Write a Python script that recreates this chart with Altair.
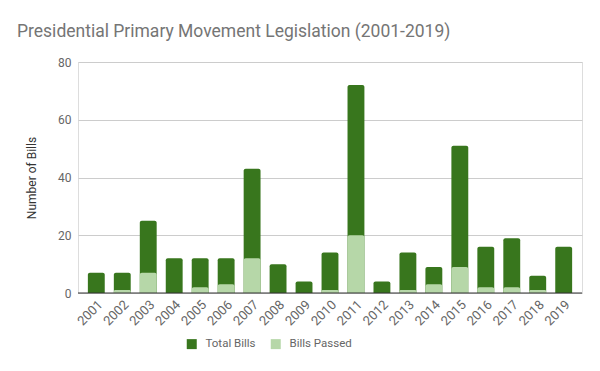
import altair as alt
import pandas as pd

years = [str(y) for y in range(2001, 2020)]
total_bills = [7, 7, 25, 12, 12, 12, 43, 10, 4, 14, 72, 4, 14, 9, 51, 16, 19, 6, 16]
bills_passed = [0, 1, 7, 0, 2, 3, 12, 0, 0, 1, 20, 0, 1, 3, 9, 2, 2, 1, 0]
series = ["Total Bills", "Bills Passed"]
colors = ["#38761d", "#b6d7a8"]

rows = []
for i, y in enumerate(years):
    rows.append({"year": y, "series": series[0], "value": total_bills[i], "ord": 0})
for i, y in enumerate(years):
    rows.append({"year": y, "series": series[1], "value": bills_passed[i], "ord": 1})
df = pd.DataFrame(rows)

font = "Roboto"

bars = alt.Chart(df).mark_bar(cornerRadiusTopLeft=2, cornerRadiusTopRight=2).encode(
    x=alt.X("year:N", sort=years,
            scale=alt.Scale(paddingInner=0.35, paddingOuter=0.38),
            axis=alt.Axis(title=None, labelAngle=-45, ticks=False, domain=False,
                          labelColor="#666666", labelFontSize=13, labelPadding=5,
                          labelFont=font)),
    y=alt.Y("value:Q", stack=None,
            scale=alt.Scale(domain=[0, 80]),
            axis=alt.Axis(title="Number of Bills", values=[0, 20, 40, 60, 80],
                          ticks=False, domain=False, gridColor="#cccccc",
                          labelColor="#666666", labelFontSize=12, labelPadding=7,
                          labelFont=font, titleFont=font, titleFontSize=12,
                          titleFontWeight="normal", titleColor="#333333",
                          titlePadding=19)),
    color=alt.Color("series:N", scale=alt.Scale(domain=series, range=colors),
                    legend=alt.Legend(title=None, orient="none", direction="horizontal",
                                      legendX=108, legendY=276,
                                      symbolType="square", symbolSize=100,
                                      symbolStrokeWidth=0, labelOffset=8,
                                      labelFont=font, labelFontSize=11.5,
                                      labelColor="#666666", columnPadding=14)),
    order=alt.Order("ord:Q"),
)

baseline = alt.Chart(pd.DataFrame({"v": [0]})).mark_rule(color="#333333", strokeWidth=1).encode(
    y="v:Q"
)

chart = alt.layer(bars, baseline).properties(
    width=504,
    height=231,
    title=alt.TitleParams("Presidential Primary Movement Legislation (2001-2019)",
                          anchor="start", frame="group", dx=-61, offset=16,
                          font=font, fontSize=17.5, fontWeight="normal", color="#757575"),
    autosize=alt.AutoSizeParams(type="none"),
    padding={"left": 70, "top": 54, "right": 10, "bottom": 70},
).configure_view(stroke=None).configure(background="white")

chart.save("out.html", embed_options={"renderer": "svg", "actions": False})
